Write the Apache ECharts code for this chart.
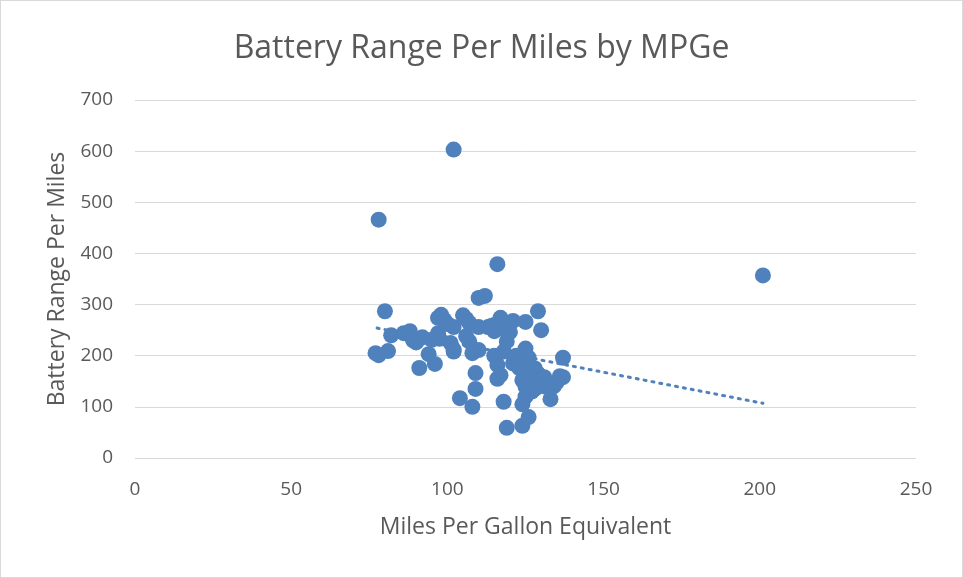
<!DOCTYPE html>
<html>
<head>
<meta charset="utf-8">
<script src="https://cdn.jsdelivr.net/npm/echarts@6/dist/echarts.min.js"></script>
<style>
  html, body { margin: 0; padding: 0; background: #fff; }
  #chart { width: 961px; height: 576px; border: 1px solid #d9d9d9; }
</style>
</head>
<body>
<div id="chart"></div>
<script>
// MPGe (x) and battery range in miles (y)
var mpge = [102, 78, 116, 201,
  80, 77, 78, 81, 82, 86, 88, 88.7, 89, 90, 91, 92, 94, 95, 96, 97, 97, 97.5, 98, 99, 100,
  101, 102, 102, 102, 104, 105, 106, 106, 107, 107, 108, 108, 109, 109, 110, 110, 110, 112,
  113, 114, 115, 115, 115, 116, 116, 117, 117, 117, 118, 118, 118, 119, 119, 120, 121, 121,
  122, 123, 124, 124, 124, 125, 125, 125, 125, 126, 126, 126, 126, 127, 127, 127, 128, 128,
  128, 129, 129, 130, 130, 131, 131, 133, 134, 135, 136, 137, 137];
var range = [603, 466, 379, 357,
  287, 205, 201, 209, 240, 244, 248, 236, 230, 226, 176, 236, 203, 231, 184, 274, 244, 233, 280, 270, 262,
  225, 212, 256, 208, 117, 279, 272, 238, 264, 228, 100, 205, 166, 135, 313, 256, 211, 317,
  256, 258, 260, 248, 200, 182, 155, 265, 274, 162, 110, 252, 208, 59, 228, 246, 268, 185,
  200, 176, 152, 63, 105, 266, 214, 140, 120, 183, 168, 80, 196, 160, 130, 145, 175, 150,
  135, 287, 165, 250, 152, 140, 158, 115, 140, 148, 160, 196, 158];
// dotted linear trend, end points
var trendX = [77.5, 201];
var trendY = [254, 107];

var xTicks = [0, 50, 100, 150, 200, 250];
var yTicks = [0, 100, 200, 300, 400, 500, 600, 700];

var points = mpge.map(function (v, i) { return [v, range[i]]; });
var trend = trendX.map(function (v, i) { return [v, trendY[i]]; });

var font = '"Open Sans", "Noto Sans", sans-serif';
var myChart = echarts.init(document.getElementById('chart'));
var option = {
    animation: false,
    title: {
        text: 'Battery Range Per Miles by MPGe',
        left: 'center',
        top: 27,
        textStyle: { color: '#595959', fontSize: 32, fontWeight: 'normal', fontFamily: font }
    },
    grid: { left: 134, right: 46, top: 99, bottom: 119 },
    xAxis: {
        type: 'value',
        min: xTicks[0],
        max: xTicks[xTicks.length - 1],
        interval: 50,
        name: 'Miles Per Gallon Equivalent',
        nameLocation: 'middle',
        nameGap: 58,
        nameTextStyle: { color: '#595959', fontSize: 23, fontFamily: font },
        axisLine: { show: false },
        axisTick: { show: false },
        splitLine: { show: false },
        axisLabel: { color: '#595959', fontSize: 19, fontFamily: font, margin: 22 }
    },
    yAxis: {
        type: 'value',
        min: yTicks[0],
        max: yTicks[yTicks.length - 1],
        interval: 100,
        name: 'Battery Range Per Miles',
        nameLocation: 'middle',
        nameGap: 66,
        nameTextStyle: { color: '#595959', fontSize: 23, fontFamily: font },
        axisLine: { show: false },
        axisTick: { show: false },
        splitLine: { lineStyle: { color: '#d9d9d9', width: 1 } },
        axisLabel: { color: '#595959', fontSize: 19, fontFamily: font, margin: 22 }
    },
    series: [{
        name: 'Range',
        type: 'scatter',
        data: points,
        symbolSize: 16,
        itemStyle: { color: '#4f81bd', opacity: 1 }
    }, {
        name: 'Trend',
        type: 'line',
        data: trend,
        symbol: 'none',
        lineStyle: { color: '#4f81bd', width: 3, type: [2, 6], cap: 'round' },
        z: 1
    }]
};
myChart.setOption(option);
</script>
</body>
</html>
